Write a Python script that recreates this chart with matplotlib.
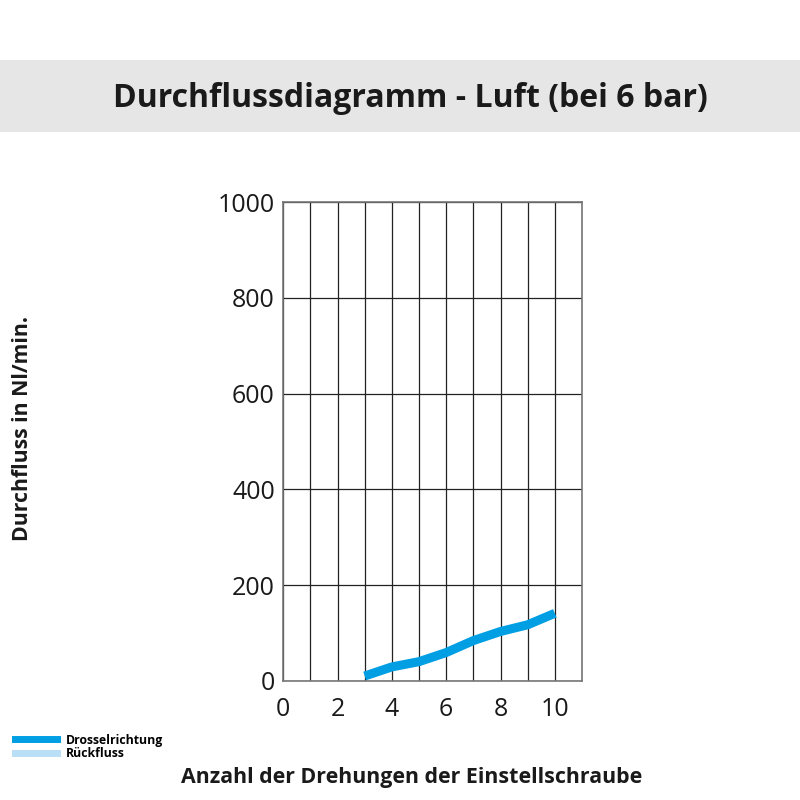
import matplotlib
matplotlib.use("Agg")
import matplotlib.pyplot as plt
from matplotlib.patches import Rectangle
from matplotlib.lines import Line2D

plt.rcParams["font.family"] = ["Open Sans", "DejaVu Sans"]

# Daten
umdrehungen = [3, 4, 5, 6, 7, 8, 9, 10]
durchfluss = [10, 29, 40, 59, 84, 103, 117, 141]
x_ticks = [0, 2, 4, 6, 8, 10]
y_ticks = [0, 200, 400, 600, 800, 1000]

BLUE = "#009FE3"
LIGHT_BLUE = "#B9DFF6"

fig = plt.figure(figsize=(8, 8), dpi=100)

# Titelbalken
fig.add_artist(Rectangle((0, 0.835), 1, 0.09, transform=fig.transFigure,
                         facecolor="#E6E6E6", edgecolor="none"))
fig.text(0.5125, 0.877, "Durchflussdiagramm - Luft (bei 6 bar)", ha="center",
         va="center", fontsize=23, fontweight="bold", color="#1a1a1a")

ax = fig.add_axes([0.354, 0.149, 0.3735, 0.5985])
ax.plot(umdrehungen, durchfluss, color=BLUE, lw=6.5, solid_capstyle="butt",
        zorder=3)
ax.set_xlim(0, 11)
ax.set_ylim(0, 1000)
ax.set_xticks(x_ticks)
ax.set_yticks(y_ticks)
ax.set_xticks(range(0, 12), minor=True)
ax.grid(True, which="both", color="#222222", lw=0.9)
ax.tick_params(which="both", length=0, labelsize=18, colors="#1a1a1a")
ax.tick_params(axis="y", pad=6)
ax.tick_params(axis="x", pad=12)
for s in ax.spines.values():
    s.set_color("#777777")
    s.set_linewidth(1.2)

fig.text(0.028, 0.464, "Durchfluss in Nl/min.", rotation=90, ha="center",
         va="center", fontsize=15.3, fontweight="bold", color="#1a1a1a")
fig.text(0.514, 0.0275, "Anzahl der Drehungen der Einstellschraube",
         ha="center", va="center", fontsize=15.4, fontweight="bold",
         color="#1a1a1a")

# Legende
handles = [Line2D([], [], color=BLUE, lw=5),
           Line2D([], [], color=LIGHT_BLUE, lw=5)]
fig.legend(handles, ["Drosselrichtung", "Rückfluss"], loc="lower left",
           bbox_to_anchor=(0.005, 0.036), frameon=False, handlelength=3.4,
           handletextpad=0.75, labelspacing=0.05,
           prop={"size": 8.8, "weight": "bold"})

fig.savefig("out.png", dpi=100)
